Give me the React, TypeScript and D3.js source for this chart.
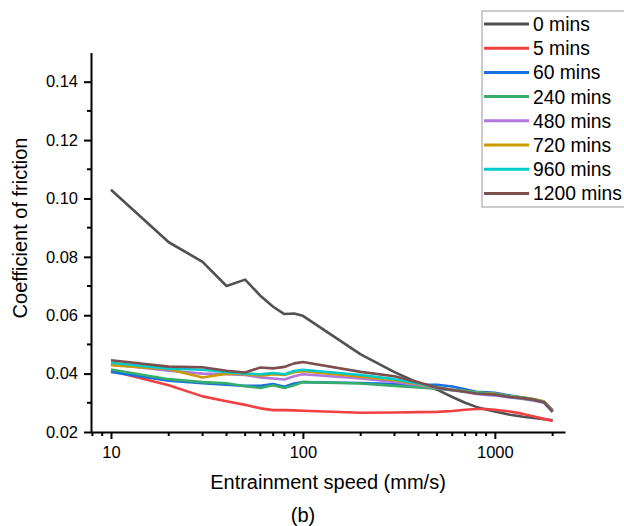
import React, { useEffect, useRef } from 'react';
import * as d3 from 'd3';

// entrainment speed (mm/s)
const speeds = [10, 20, 30, 40, 50, 60, 70, 80, 90, 100, 200, 300, 400, 500, 600, 700, 800, 900, 1000, 1200, 1400, 1600, 1800, 2000];

const mins0 = [0.103, 0.085, 0.0783, 0.0700, 0.0722, 0.0667, 0.0629, 0.0604, 0.0606, 0.0598, 0.0466, 0.0405, 0.0368, 0.0345, 0.0320, 0.0300, 0.0286, 0.0277, 0.0270, 0.0259, 0.0252, 0.0248, 0.0244, 0.0240];
const mins5 = [0.0410, 0.0360, 0.0322, 0.0305, 0.0293, 0.0281, 0.0275, 0.0275, 0.0274, 0.0273, 0.0266, 0.0267, 0.0268, 0.0269, 0.0272, 0.0276, 0.0279, 0.0279, 0.0276, 0.0270, 0.0262, 0.0253, 0.0245, 0.0238];
const mins60 = [0.0406, 0.0376, 0.0367, 0.0362, 0.0358, 0.0358, 0.0364, 0.0355, 0.0366, 0.0371, 0.0368, 0.0364, 0.0362, 0.0362, 0.0356, 0.0346, 0.0338, 0.0336, 0.0334, 0.0325, 0.0318, 0.0312, 0.0304, 0.0275];
const mins240 = [0.0414, 0.0381, 0.0371, 0.0367, 0.0357, 0.0351, 0.0360, 0.0351, 0.0360, 0.0371, 0.0366, 0.0358, 0.0353, 0.0348, 0.0343, 0.0340, 0.0336, 0.0333, 0.0331, 0.0322, 0.0318, 0.0312, 0.0304, 0.0272];
const mins480 = [0.0432, 0.0410, 0.0400, 0.0398, 0.0395, 0.0387, 0.0383, 0.0380, 0.0391, 0.0398, 0.0383, 0.0371, 0.0360, 0.0350, 0.0343, 0.0337, 0.0330, 0.0327, 0.0325, 0.0318, 0.0313, 0.0307, 0.0300, 0.0268];
const mins720 = [0.0429, 0.0415, 0.0387, 0.0400, 0.0398, 0.0393, 0.0398, 0.0395, 0.0405, 0.0408, 0.0389, 0.0377, 0.0364, 0.0352, 0.0345, 0.0340, 0.0335, 0.0333, 0.0331, 0.0322, 0.0318, 0.0312, 0.0305, 0.0272];
const mins960 = [0.0437, 0.0417, 0.0413, 0.0405, 0.0400, 0.0398, 0.0402, 0.0398, 0.0409, 0.0413, 0.0395, 0.0381, 0.0366, 0.0352, 0.0345, 0.0339, 0.0334, 0.0331, 0.0329, 0.0321, 0.0316, 0.0310, 0.0303, 0.0270];
const mins1200 = [0.0446, 0.0424, 0.0422, 0.0410, 0.0404, 0.0421, 0.0418, 0.0423, 0.0435, 0.0440, 0.0406, 0.0391, 0.0370, 0.0352, 0.0344, 0.0338, 0.0332, 0.0330, 0.0328, 0.0320, 0.0316, 0.0310, 0.0302, 0.0270];

const seriesNames = ['0 mins', '5 mins', '60 mins', '240 mins', '480 mins', '720 mins', '960 mins', '1200 mins'];
const seriesColors = ['#515151', '#F14040', '#1A6FDF', '#37AD6B', '#B177DE', '#CC9900', '#00CBCC', '#7D4E4E'];
const seriesValues = [mins0, mins5, mins60, mins240, mins480, mins720, mins960, mins1200];

const yTicks = [0.02, 0.04, 0.06, 0.08, 0.10, 0.12, 0.14];
const xTicks = [10, 100, 1000];

const FONT = 'Arial, "Liberation Sans", sans-serif';

export default function App() {
  const ref = useRef<SVGSVGElement>(null);

  useEffect(() => {
    const svg = d3.select(ref.current);
    svg.selectAll('*').remove();

    const x = d3.scaleLog().domain([7.87, 2320]).range([91, 565]);
    const y = d3.scaleLinear().domain([0.02, 0.15]).range([432, 52.5]);

    // data lines (drawn first so axes sit on top)
    const line = d3.line<[number, number]>()
      .x(d => x(d[0]))
      .y(d => y(d[1]));

    seriesValues.forEach((vals, i) => {
      const pts = speeds.map((s, j) => [s, vals[j]] as [number, number]);
      svg.append('path')
        .datum(pts)
        .attr('d', line)
        .attr('fill', 'none')
        .attr('stroke', seriesColors[i])
        .attr('stroke-width', 2.6)
        .attr('stroke-linejoin', 'round');
    });

    // x axis
    const xMinor = [8, 9, 20, 30, 40, 50, 60, 70, 80, 90, 200, 300, 400, 500, 600, 700, 800, 900, 2000];
    const gx = svg.append('g').attr('transform', 'translate(0,432)');
    gx.call(d3.axisBottom(x).tickValues(xTicks).tickFormat(d3.format('d')).tickSize(7).tickSizeOuter(0));
    gx.append('g').selectAll('line').data(xMinor).join('line')
      .attr('x1', d => x(d)).attr('x2', d => x(d))
      .attr('y1', 0).attr('y2', 4)
      .attr('stroke', '#000').attr('stroke-width', 2);

    // y axis
    const yMinor = [0.03, 0.05, 0.07, 0.09, 0.11, 0.13];
    const gy = svg.append('g').attr('transform', 'translate(91,0)');
    gy.call(d3.axisLeft(y).tickValues(yTicks).tickFormat(d3.format('.2f')).tickSize(7).tickSizeOuter(0));
    gy.append('g').selectAll('line').data(yMinor).join('line')
      .attr('y1', d => y(d)).attr('y2', d => y(d))
      .attr('x1', 0).attr('x2', -4)
      .attr('stroke', '#000').attr('stroke-width', 2);

    [gx, gy].forEach(g => {
      g.select('.domain').attr('stroke', '#000').attr('stroke-width', 2);
      g.selectAll('.tick line').attr('stroke', '#000').attr('stroke-width', 2);
      g.selectAll('.tick text')
        .attr('font-family', FONT)
        .attr('font-size', 16.5)
        .attr('fill', '#000');
    });
    gx.selectAll('.tick text').attr('dy', '0.71em').attr('y', 14);
    gy.selectAll('.tick text').attr('x', -13);

    // axis titles
    svg.append('text')
      .attr('x', 328).attr('y', 489)
      .attr('text-anchor', 'middle')
      .attr('font-family', FONT).attr('font-size', 20)
      .text('Entrainment speed (mm/s)');

    svg.append('text')
      .attr('transform', 'translate(27,228) rotate(-90)')
      .attr('text-anchor', 'middle')
      .attr('font-family', FONT).attr('font-size', 20)
      .text('Coefficient of friction');

    svg.append('text')
      .attr('x', 303).attr('y', 522)
      .attr('text-anchor', 'middle')
      .attr('font-family', FONT).attr('font-size', 20)
      .text('(b)');

    // legend
    const lg = svg.append('g');
    lg.append('rect')
      .attr('x', 482).attr('y', 11)
      .attr('width', 200).attr('height', 196)
      .attr('fill', '#fff').attr('stroke', '#999').attr('stroke-width', 1);
    seriesNames.forEach((name, i) => {
      const yy = 24 + i * 24.2;
      lg.append('line')
        .attr('x1', 484).attr('x2', 529)
        .attr('y1', yy).attr('y2', yy)
        .attr('stroke', seriesColors[i]).attr('stroke-width', 3);
      lg.append('text')
        .attr('x', 533).attr('y', yy)
        .attr('dy', '0.36em')
        .attr('font-family', FONT).attr('font-size', 19.3)
        .text(name);
    });
  }, []);

  return (
    <svg
      ref={ref}
      width={624}
      height={526}
      style={{ position: 'absolute', left: 0, top: 0, display: 'block', background: '#fff' }}
    />
  );
}
